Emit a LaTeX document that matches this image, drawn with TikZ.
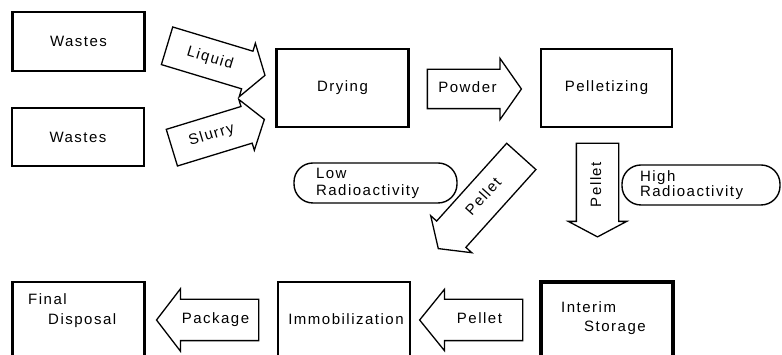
\documentclass[tikz,border=0pt]{standalone}
\usepackage{fontspec}
\setmainfont[LetterSpace=10]{Liberation Sans}
\usetikzlibrary{shapes.arrows}

\begin{document}
\begin{tikzpicture}[x=1pt,y=1pt,
    font=\fontsize{15}{15}\selectfont,
    box/.style={draw, line width=2.5pt, minimum width=132pt, inner sep=0pt},
    pill/.style={draw, line width=1.4pt, rounded corners=19pt, minimum height=40pt, align=left},
    bigarrow/.style={single arrow, draw, line width=1.3pt, single arrow head indent=0pt,
                     inner xsep=0pt, text height=10pt, text depth=3pt, align=center}]
    \useasboundingbox (0,0) rectangle (782,355);
    \clip (0,0) rectangle (782,355);

    % top row
    \node[box, minimum height=59pt] (wastesA) at (78.5,313.5) {Wastes};
    \node[box, minimum height=58pt] (wastesB) at (78,218) {Wastes};
    \node[box, minimum height=78pt] (drying) at (342.5,267) {Drying};
    \node[box, minimum height=78pt, minimum width=131pt] (pelletizing) at (606.5,267) {Pelletizing};

    % arrows into drying and pelletizing
    \node[bigarrow, rotate=-16.8, text width=88pt, inner ysep=12.5pt,
          single arrow head extend=8.3pt, single arrow tip angle=113] (liquid) at (209.8,296.3) {Liquid};
    \node[bigarrow, rotate=17, text width=82pt, inner ysep=12pt,
          single arrow head extend=7.4pt, single arrow tip angle=110] (slurry) at (211.7,219.5) {Slurry};
    \node[bigarrow, text width=79pt, inner ysep=12.5pt,
          single arrow head extend=11pt, single arrow tip angle=110] (powder) at (467.5,266) {Powder};

    % radioactivity
    \node[pill, text width=119pt, inner xsep=22pt] (low) at (375.5,172) {Low\\[2pt]Radioactivity};
    \node[pill, text width=122pt, inner xsep=18pt] (high) at (701,170) {High\\Radioactivity};

    \node[bigarrow, rotate=48, shape border rotate=180, text width=109pt, inner ysep=12.5pt,
          single arrow head extend=8pt, single arrow tip angle=110] (pelletL) at (484.4,157.6) {Pellet};
    \node[bigarrow, rotate=90, shape border rotate=180, text width=81pt, inner ysep=14pt,
          single arrow head extend=8pt, single arrow tip angle=124] (pelletH) at (597.5,170.5) {Pellet};

    % bottom row
    \node[box, minimum height=85pt] (final) at (78.5,30.5) {};
    \node[box, minimum height=85pt] (immob) at (344,30.5) {};
    \node[box, minimum height=85pt, line width=3.5pt] (interim) at (607,30.5) {};
    \node[anchor=base west, inner sep=0pt, align=left] (finaltxt) at (28,30) {Final\\[5pt]\hspace*{20pt}Disposal};
    \node[inner sep=0pt] (immobtxt) at (346,36) {Immobilization};
    \node[anchor=base west, inner sep=0pt, align=left] (interimtxt) at (561,23) {Interim\\[4pt]\hspace*{23pt}Storage};

    \node[bigarrow, shape border rotate=180, text width=85pt, inner ysep=13.5pt,
          single arrow head extend=10.5pt, single arrow tip angle=105] (package) at (215.5,35) {Package};
    \node[bigarrow, shape border rotate=180, text width=85pt, inner ysep=13.5pt,
          single arrow head extend=10pt, single arrow tip angle=102] (pelletB) at (479.5,35) {Pellet};
\end{tikzpicture}
\end{document}
